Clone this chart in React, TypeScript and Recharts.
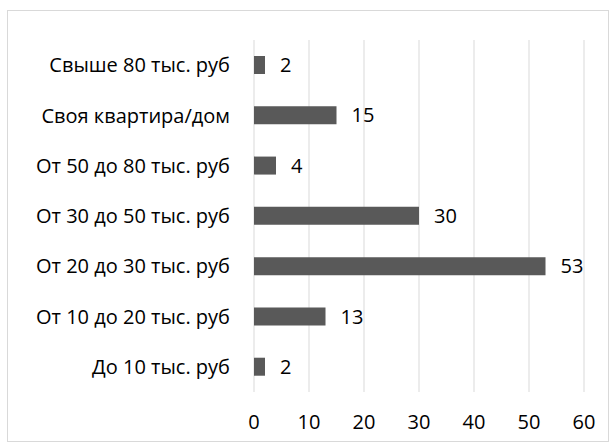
import React from 'react'
import { Bar, BarChart, CartesianGrid, LabelList, XAxis, YAxis } from 'recharts'

const categories = [
  'Свыше 80 тыс. руб',
  'Своя квартира/дом',
  'От 50 до 80 тыс. руб',
  'От 30 до 50 тыс. руб',
  'От 20 до 30 тыс. руб',
  'От 10 до 20 тыс. руб',
  'До 10 тыс. руб',
]
const counts = [2, 15, 4, 30, 53, 13, 2]
const xTicks = [0, 10, 20, 30, 40, 50, 60]

const data = categories.map((name, i) => ({ name, value: counts[i] }))

const font = '"Open Sans", sans-serif'

export default function App() {
  return (
    <div
      style={{
        position: 'absolute',
        left: 7,
        top: 10,
        width: 600,
        height: 430,
        border: '1px solid #d9d9d9',
        background: '#fff',
        fontFamily: font,
      }}
    >
      <BarChart
        width={598}
        height={428}
        data={data}
        layout="vertical"
        margin={{ top: 29, right: 22, bottom: 0, left: 0 }}
        barCategoryGap={0}
      >
        <CartesianGrid horizontal={false} stroke="#d9d9d9" />
        <XAxis
          type="number"
          domain={[0, 60]}
          ticks={xTicks}
          axisLine={false}
          tickLine={false}
          tickSize={0}
          tickMargin={23}
          height={47}
          tick={{ fill: '#000', fontSize: 20, fontFamily: font }}
        />
        <YAxis
          type="category"
          dataKey="name"
          width={246}
          axisLine={false}
          tickLine={false}
          tickSize={0}
          tickMargin={24}
          interval={0}
          tick={{ fill: '#000', fontSize: 20, fontFamily: font }}
        />
        <Bar dataKey="value" fill="#595959" barSize={18} isAnimationActive={false}>
          <LabelList
            dataKey="value"
            position="right"
            offset={15}
            style={{ fill: '#000', fontSize: 20, fontFamily: font }}
          />
        </Bar>
      </BarChart>
    </div>
  )
}
